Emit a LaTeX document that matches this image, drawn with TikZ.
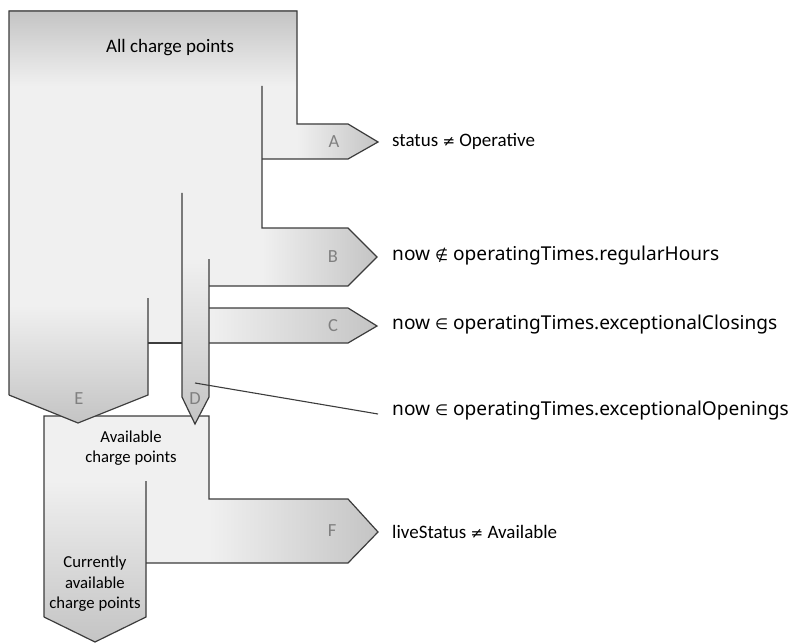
\documentclass[tikz,border=0pt]{standalone}
\usepackage{fontspec}
\setmainfont{Carlito}
\newfontfamily\bigf{Noto Sans}
\newfontfamily\symf{DejaVu Sans}
\definecolor{lineC}{HTML}{3C3C3C}
\definecolor{lightC}{HTML}{F0F0F0}
\definecolor{darkC}{HTML}{C4C4C4}
\definecolor{labelC}{HTML}{808080}
\begin{document}
\begin{tikzpicture}[x=1bp,y=-1bp,
  outl/.style={draw=lineC, line width=1.2bp, line join=miter},
  hgrad/.style={left color=lightC, right color=darkC},
  vgrad/.style={top color=lightC, bottom color=darkC},
  letter/.style={text=labelC, font=\fontsize{18.5bp}{20bp}\selectfont, inner sep=0pt},
  boxtext/.style={align=center, font=\fontsize{16.7bp}{20.5bp}\selectfont, inner sep=0pt},
  cond/.style={anchor=west, inner sep=0pt, font=\fontsize{19bp}{22bp}\selectfont},
  bigcond/.style={anchor=west, inner sep=0pt, font=\bigf\fontsize{19.1bp}{22bp}\selectfont}]
\useasboundingbox[fill=white] (0,0) rectangle (792,643);

% ---- lower box: available charge points
\fill[lightC] (44,416) -- (209,416) -- (209,499) -- (348,499) -- (378,532) -- (348,563)
  -- (146,563) -- (146,617) -- (95,642) -- (44,617) -- cycle;
\shade[hgrad] (209,499) -- (348,499) -- (378,532) -- (348,563) -- (209,563) -- cycle;
\shade[vgrad] (44,481) -- (146,481) -- (146,617) -- (95,642) -- (44,617) -- cycle;
\draw[outl] (44,617) -- (44,416) -- (209,416) -- (209,499) -- (348,499) -- (378,532)
  -- (348,563) -- (146,563);
\draw[outl] (146,481) -- (146,617) -- (95,642) -- (44,617);

% ---- main body: all charge points
\fill[lightC] (9,11) -- (297,11) -- (297,124) -- (348,124) -- (378,142) -- (348,159)
  -- (262,159) -- (262,228) -- (348,228) -- (377,257) -- (348,286) -- (209,286)
  -- (209,308) -- (348,308) -- (377,326) -- (348,343) -- (209,343) -- (209,397)
  -- (195,424) -- (182,397) -- (182,343) -- (148,343) -- (148,395) -- (78,423)
  -- (9,395) -- cycle;
\shade[top color=darkC, bottom color=lightC] (9,11) rectangle (297,86);
\shade[hgrad] (297,124) -- (348,124) -- (378,142) -- (348,159) -- (297,159) -- cycle;
\shade[hgrad] (262,228) -- (348,228) -- (377,257) -- (348,286) -- (262,286) -- cycle;
\shade[hgrad] (209,308) -- (348,308) -- (377,326) -- (348,343) -- (209,343) -- cycle;
\shade[vgrad] (182,258) -- (209,258) -- (209,397) -- (195,424) -- (182,397) -- cycle;
\shade[vgrad] (9,305) -- (148,305) -- (148,395) -- (78,423) -- (9,395) -- cycle;

\draw[outl] (9,395) -- (9,11) -- (297,11) -- (297,124) -- (348,124) -- (378,142)
  -- (348,159) -- (262,159);
\draw[outl] (262,86) -- (262,228) -- (348,228) -- (377,257) -- (348,286) -- (209,286);
\draw[outl] (209,308) -- (348,308) -- (377,326) -- (348,343) -- (209,343);
\draw[outl] (209,259) -- (209,397) -- (195,424) -- (182,397) -- (182,193);
\draw[outl] (182,343) -- (148,343);
\draw[outl] (148,298) -- (148,395) -- (78,423) -- (9,395);

% ---- texts
\node[boxtext, font=\fontsize{19bp}{22bp}\selectfont] (all) at (170,48) {All charge points};
\node[boxtext] (avail) at (131,448) {Available\\charge points};
\node[boxtext] (curr) at (95,584) {Currently\\available\\charge points};

\node[letter] (la) at (334,142) {A};
\node[letter] (lb) at (333,257) {B};
\node[letter] (lc) at (333,326) {C};
\node[letter] (ld) at (195,399) {D};
\node[letter] (le) at (79,399) {E};
\node[letter] (lf) at (332,531) {F};

\node[cond] (ca) at (392,141) {status {\symf\fontsize{15bp}{18bp}\selectfont ≠} Operative};
\node[bigcond] (cb) at (392,256) {now {\symf\fontsize{15bp}{18bp}\selectfont ∉} operatingTimes.regularHours};
\node[bigcond] (cc) at (392,325) {now {\symf\fontsize{15bp}{18bp}\selectfont ∈} operatingTimes.exceptionalClosings};
\node[bigcond] (cd) at (392,411) {now {\symf\fontsize{15bp}{18bp}\selectfont ∈} operatingTimes.exceptionalOpenings};
\node[cond] (cf) at (392,532) {liveStatus {\symf\fontsize{15bp}{18bp}\selectfont ≠} Available};

\coordinate (dsrc) at (195,383);
\coordinate (dend) at (378,414);
\draw[draw=lineC, line width=1.1bp] (dsrc) -- (dend);
\end{tikzpicture}
\end{document}
